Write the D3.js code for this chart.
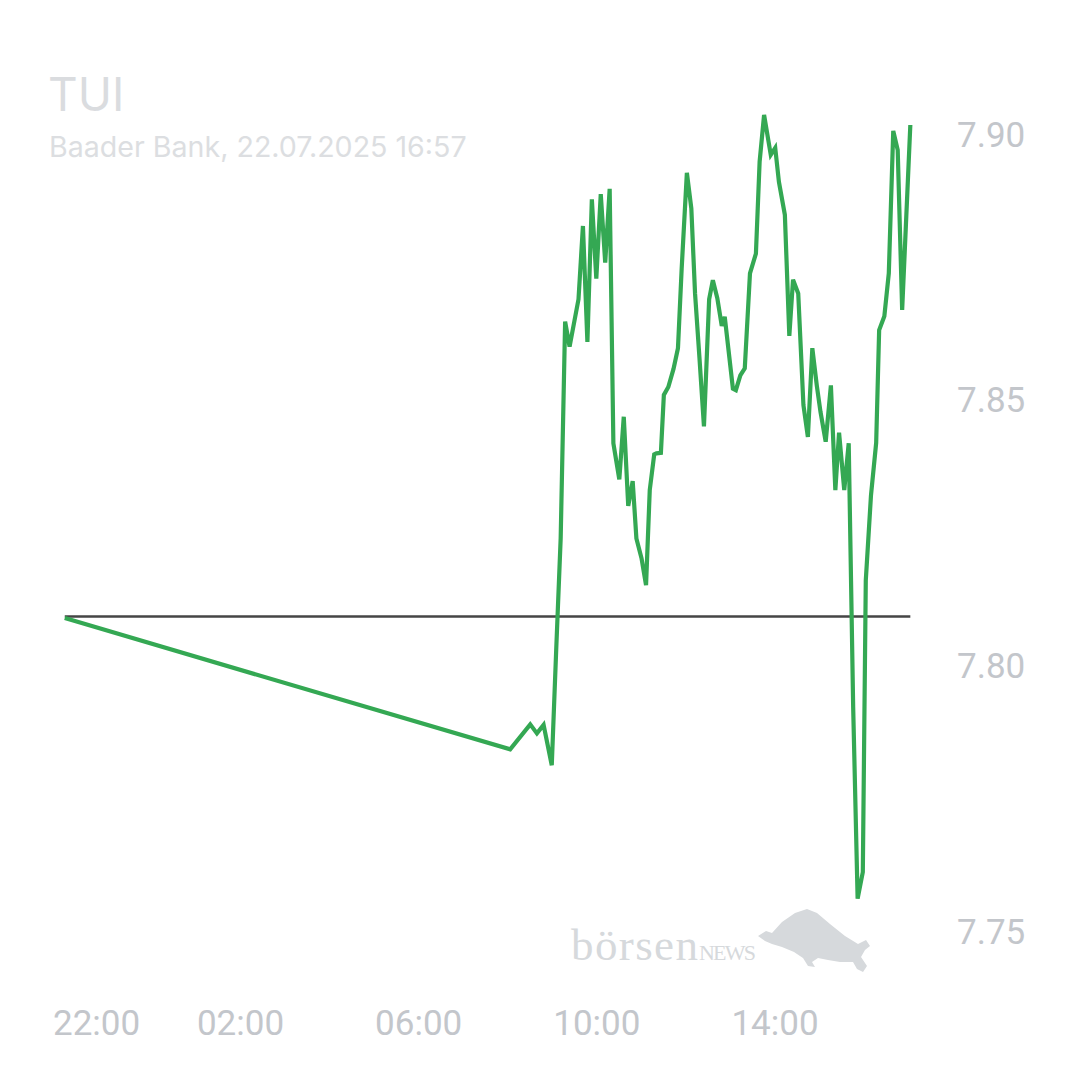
<!doctype html>
<html>
  <head>
    <meta charset="utf-8">
    <title>TUI</title>
    <script src="https://cdnjs.cloudflare.com/ajax/libs/d3/7.8.5/d3.min.js"></script>
    <style>
      body { margin: 0; background: #fff; }
      svg { display: block; }
    </style>
  </head>
  <body>
    <div id="chart"></div>
    <script>
      // chart data
      const title = "TUI";
      const subtitle = "Baader Bank, 22.07.2025 16:57";
      const prevClose = 7.809;

      const times = [
        "2025-07-21T22:04",
        "2025-07-22T08:04", "2025-07-22T08:31", "2025-07-22T08:40", "2025-07-22T08:49",
        "2025-07-22T09:00", "2025-07-22T09:06", "2025-07-22T09:12", "2025-07-22T09:18",
        "2025-07-22T09:24", "2025-07-22T09:36", "2025-07-22T09:42", "2025-07-22T09:48",
        "2025-07-22T09:54", "2025-07-22T10:00", "2025-07-22T10:06", "2025-07-22T10:12",
        "2025-07-22T10:18", "2025-07-22T10:23", "2025-07-22T10:31", "2025-07-22T10:37",
        "2025-07-22T10:43", "2025-07-22T10:49", "2025-07-22T10:54", "2025-07-22T11:01",
        "2025-07-22T11:07", "2025-07-22T11:12", "2025-07-22T11:18", "2025-07-22T11:21",
        "2025-07-22T11:27", "2025-07-22T11:31", "2025-07-22T11:37", "2025-07-22T11:44",
        "2025-07-22T11:50", "2025-07-22T11:55", "2025-07-22T12:02", "2025-07-22T12:08",
        "2025-07-22T12:13", "2025-07-22T12:19", "2025-07-22T12:25", "2025-07-22T12:32",
        "2025-07-22T12:37", "2025-07-22T12:43", "2025-07-22T12:49", "2025-07-22T12:53",
        "2025-07-22T13:04", "2025-07-22T13:08", "2025-07-22T13:14", "2025-07-22T13:20",
        "2025-07-22T13:27", "2025-07-22T13:35", "2025-07-22T13:40", "2025-07-22T13:46",
        "2025-07-22T13:55", "2025-07-22T14:01", "2025-07-22T14:06", "2025-07-22T14:14",
        "2025-07-22T14:20", "2025-07-22T14:25", "2025-07-22T14:32", "2025-07-22T14:39",
        "2025-07-22T14:45", "2025-07-22T14:51", "2025-07-22T14:57", "2025-07-22T15:02",
        "2025-07-22T15:09", "2025-07-22T15:16", "2025-07-22T15:22", "2025-07-22T15:27",
        "2025-07-22T15:34", "2025-07-22T15:40", "2025-07-22T15:46", "2025-07-22T15:52",
        "2025-07-22T15:59", "2025-07-22T16:03", "2025-07-22T16:10", "2025-07-22T16:17",
        "2025-07-22T16:21", "2025-07-22T16:28", "2025-07-22T16:34", "2025-07-22T16:40",
        "2025-07-22T16:46", "2025-07-22T16:52", "2025-07-22T17:03"
      ];

      const prices = [
        7.8087,
        7.7840, 7.7887, 7.7870, 7.7886,
        7.7810, 7.8028, 7.8237, 7.8645,
        7.8598, 7.8687, 7.8825, 7.8607,
        7.8875, 7.8726, 7.8885, 7.8756,
        7.8895, 7.8416, 7.8348, 7.8466,
        7.8298, 7.8345, 7.8237, 7.8199,
        7.8149, 7.8328, 7.8395, 7.8397,
        7.8398, 7.8507, 7.8522, 7.8556,
        7.8595, 7.8745, 7.8925, 7.8858,
        7.8698, 7.8576, 7.8448, 7.8687,
        7.8723, 7.8689, 7.8637, 7.8654,
        7.8519, 7.8516, 7.8544, 7.8557,
        7.8736, 7.8773, 7.8946, 7.9034,
        7.8959, 7.8972, 7.8908, 7.8846,
        7.8618, 7.8724, 7.8698, 7.8488,
        7.8428, 7.8595, 7.8525, 7.8475,
        7.8419, 7.8525, 7.8328, 7.8436,
        7.8328, 7.8416, 7.7920, 7.7559,
        7.7609, 7.8158, 7.8318, 7.8417,
        7.8629, 7.8655, 7.8736, 7.9004,
        7.8968, 7.8667, 7.9015
      ];

      const xTicks = ["2025-07-21T22:00", "2025-07-22T02:00", "2025-07-22T06:00",
                      "2025-07-22T10:00", "2025-07-22T14:00"];
      const yTicks = [7.75, 7.80, 7.85, 7.90];
      const xDomain = ["2025-07-21T22:00", "2025-07-22T17:00"];

      const parse = d3.timeParse("%Y-%m-%dT%H:%M");
      const data = times.map((t, i) => ({ t: parse(t), p: prices[i] }));

      const svg = d3.select('#chart')
        .append('svg')
        .attr('width', 1080)
        .attr('height', 1080);

      svg.append('rect')
        .attr('width', 1080).attr('height', 1080)
        .attr('fill', '#fff');

      const x = d3.scaleTime()
        .domain(xDomain.map(parse))
        .range([61.8, 908.1]);

      const y = d3.scaleLinear()
        .domain([7.75, 7.90])
        .range([930, 133]);

      // header
      svg.append('text')
        .attr('x', 48).attr('y', 111)
        .style('font-family', 'Inter')
        .style('font-size', '46px')
        .attr('fill', '#dadcdf')
        .text(title);

      svg.append('text')
        .attr('x', 49).attr('y', 157)
        .style('font-family', 'Inter')
        .style('font-size', '28.6px')
        .attr('fill', '#dcdee1')
        .text(subtitle);

      // watermark
      const wm = svg.append('g').attr('fill', '#d6d9dc');
      wm.append('text')
        .attr('x', 571).attr('y', 960)
        .attr('textLength', 127)
        .style('font-family', 'Liberation Serif')
        .style('font-size', '45px')
        .text('börsen');
      wm.append('text')
        .attr('x', 699).attr('y', 960)
        .attr('textLength', 57)
        .style('font-family', 'Liberation Serif')
        .style('font-size', '22px')
        .text('NEWS');
      wm.append('path')
        .attr('d', 'M758,936 L766,931 L772,933 L782,922 L795,913 L807,909 L817,913 ' +
                   'L830,924 L845,936 L858,944 L866,940 L870,946 L865,950 L861,957 ' +
                   'L867,966 L863,972 L857,969 L853,962 L840,962 L828,960 L818,958 ' +
                   'L812,962 L815,967 L808,966 L803,958 L794,952 L782,947 L772,944 ' +
                   'L765,941 Z');

      // previous close line
      svg.append('line')
        .attr('x1', x(data[0].t))
        .attr('x2', x(data[data.length - 1].t))
        .attr('y1', y(prevClose))
        .attr('y2', y(prevClose))
        .attr('stroke', '#454545')
        .attr('stroke-width', 2.5);

      // price line
      const line = d3.line()
        .x(d => x(d.t))
        .y(d => y(d.p));

      svg.append('path')
        .datum(data)
        .attr('d', line)
        .attr('fill', 'none')
        .attr('stroke', '#34a853')
        .attr('stroke-width', 4.2);

      // y axis on the right
      const yAxis = svg.append('g')
        .attr('transform', 'translate(957,0)')
        .call(d3.axisRight(y)
          .tickValues(yTicks)
          .tickFormat(d3.format('.2f'))
          .tickSize(0)
          .tickPadding(0));

      // x axis
      const xAxis = svg.append('g')
        .attr('transform', 'translate(0,1000)')
        .call(d3.axisBottom(x)
          .tickValues(xTicks.map(parse))
          .tickFormat(d3.timeFormat('%H:%M'))
          .tickSize(0)
          .tickPadding(10));

      [yAxis, xAxis].forEach(ax => {
        ax.select('.domain').remove();
        ax.selectAll('text')
          .style('font-family', 'Roboto')
          .style('font-size', '35px')
          .attr('fill', '#c3c6cb');
      });
      yAxis.selectAll('text').attr('dy', '0.38em');

      // keep the first time label inside the left margin
      xAxis.selectAll('.tick text').each(function() {
        const w = this.getComputedTextLength();
        const tx = +d3.select(this.parentNode).attr('transform').match(/translate\(([-\d.]+)/)[1];
        if (tx - w / 2 < 53) d3.select(this).attr('x', 53 + w / 2 - tx);
      });
    </script>
  </body>
</html>
